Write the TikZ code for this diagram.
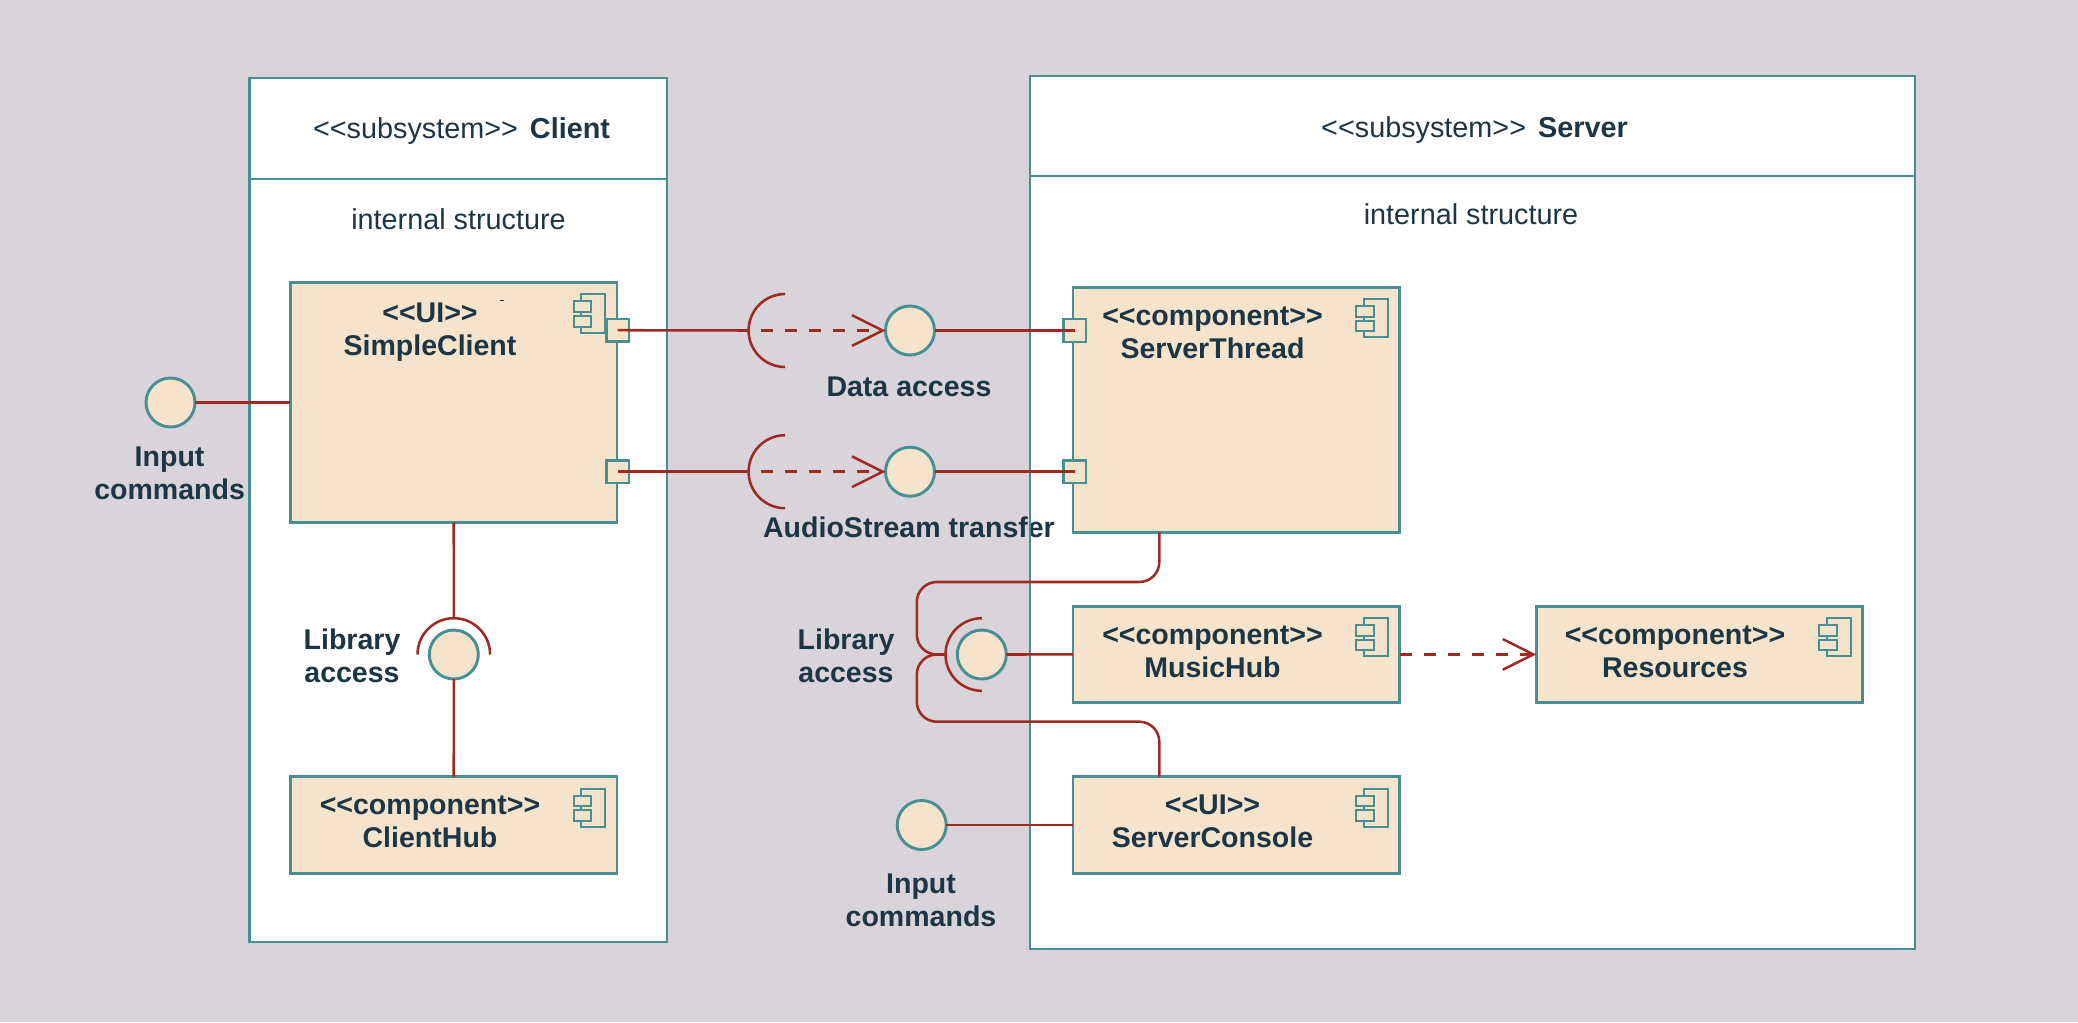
\documentclass[tikz,border=0pt]{standalone}
\usepackage{fontspec}
\setmainfont{Liberation Sans}
\usetikzlibrary{arrows.meta}

\definecolor{backc}{HTML}{D9D3DA}
\definecolor{fillc}{HTML}{F5E4CB}
\definecolor{tealc}{HTML}{478F92}
\definecolor{wirec}{HTML}{9E2B22}
\definecolor{textc}{HTML}{1C3646}

\newcommand{\stereo}[1]{<\kern0pt<#1>\kern0pt>}

\tikzset{
  frame/.style={draw=tealc,fill=white,line width=2.2pt,inner sep=0pt,outer sep=0pt},
  compbox/.style={draw=tealc,fill=fillc,line width=2.2pt,inner sep=0pt,outer sep=0pt,minimum width=244.9pt},
  portbox/.style={draw=tealc,fill=fillc,line width=1.7pt,inner sep=0pt,outer sep=0pt,minimum size=17pt},
  iface/.style={circle,draw=tealc,fill=fillc,line width=2.2pt,inner sep=0pt,outer sep=0pt,minimum size=36.75pt},
  wire/.style={draw=wirec,line width=1.9pt},
  depend/.style={wire,dash pattern=on 9.5pt off 8.5pt,-{Straight Barb[length=23pt,width=23pt]}},
  boldtext/.style={text=textc,align=center,inner sep=0pt,font=\fontsize{21.4pt}{24.75pt}\selectfont\bfseries},
  plaintext/.style={text=textc,align=center,inner sep=0pt,font=\fontsize{21.6pt}{24.75pt}\selectfont},
  compicon/.pic={
    \draw[draw=tealc,fill=fillc,line width=1.5pt] (-35.6,-11.8) rectangle (-12,-50.2);
    \draw[draw=tealc,fill=fillc,line width=1.5pt] (-43.4,-18.8) rectangle (-25.6,-29.5);
    \draw[draw=tealc,fill=fillc,line width=1.5pt] (-43.4,-33.5) rectangle (-25.6,-44.2);
  }
}

\begin{document}
\begin{tikzpicture}[x=0.75pt,y=0.75pt,yscale=-1,xscale=1]
\useasboundingbox (0,0) rectangle (2078,1022);
\fill[backc] (0,0) rectangle (2078,1022);

% Subsystem frames
\node (clientframe) [frame,minimum width=313.1pt,minimum height=648pt] at (458.25,510) {};
\node (serverframe) [frame,minimum width=663.75pt,minimum height=654.75pt] at (1472.5,512.5) {};
\coordinate (clientdiv) at (0,179);
\coordinate (serverdiv) at (0,176);
\draw[draw=tealc,line width=2.2pt] (clientframe.west |- clientdiv) -- (clientframe.east |- clientdiv);
\draw[draw=tealc,line width=2.2pt] (serverframe.west |- serverdiv) -- (serverframe.east |- serverdiv);

% Components
\node (simpleclient) [compbox,minimum height=180pt] at (453.75,402.5) {};
\node (clienthub) [compbox,minimum height=72.4pt] at (453.75,825) {};
\node (serverthread) [compbox,minimum height=184pt] at (1236.25,409.7) {};
\node (musichub) [compbox,minimum height=72.4pt] at (1236.25,654.4) {};
\node (serverconsole) [compbox,minimum height=72.4pt] at (1236.25,825) {};
\node (resources) [compbox,minimum height=72.4pt] at (1699.5,654.4) {};

\pic at (simpleclient.north east) {compicon};
\pic at (clienthub.north east) {compicon};
\pic at (serverthread.north east) {compicon};
\pic at (musichub.north east) {compicon};
\pic at (serverconsole.north east) {compicon};
\pic at (resources.north east) {compicon};
\draw[draw=textc,line width=0.8pt] (499.5,300.7) -- (504,300.7);

% Ports
\node (clientdata) [portbox] at (617.7,330.2) {};
\node (clientaudio) [portbox] at (617.7,471.7) {};
\node (serverdata) [portbox] at (1074.8,330.5) {};
\node (serveraudio) [portbox] at (1074.8,471.7) {};

% Interfaces
\node (inputclient) [iface] at (170.5,402.5) {};
\node (dataiface) [iface] at (910,330.5) {};
\node (audioiface) [iface] at (910,471.7) {};
\node (libclient) [iface] at (453.8,654.5) {};
\node (libserver) [iface] at (981.8,654.5) {};
\node (inputserver) [iface] at (921.7,825) {};

% Sockets
\coordinate (datasock) at (748.6,330.5);
\coordinate (audiosock) at (748.6,471.7);
\coordinate (libtop) at (453.8,618.2);
\coordinate (libsock) at (945.5,654.5);
\draw[wire] (datasock) ++(36.5,-36.5) arc (-90:-270:36.5);
\draw[wire] (audiosock) ++(36.5,-36.5) arc (-90:-270:36.5);
\draw[wire] (libtop) ++(36.3,36.3) arc (0:-180:36.3);
\draw[wire] (libsock) ++(36.3,-36.3) arc (-90:-270:36.3);

% Text Node
\node (clienttitle) [plaintext] at (461.5,131.5) {\stereo{subsystem}\hspace{3pt} \textbf{Client}};
\node (servertitle) [plaintext] at (1474.5,130.5) {\stereo{subsystem}\hspace{3pt} \textbf{Server}};
\node (clientinner) [plaintext] at (458.5,219) {internal structure};
\node (serverinner) [plaintext] at (1471,214) {internal structure};
\node (simplelabel) [boldtext] at (430,332.5) {\stereo{UI}\\SimpleClient};
\node (clienthublabel) [boldtext] at (430,821.5) {\stereo{component}\\ClientHub};
\node (threadlabel) [boldtext] at (1212.5,333.3) {\stereo{component}\\ServerThread};
\node (musiclabel) [boldtext] at (1212.5,651.5) {\stereo{component}\\MusicHub};
\node (consolelabel) [boldtext] at (1212.5,821.5) {\stereo{UI}\\ServerConsole};
\node (resourcelabel) [boldtext] at (1675,651.5) {\stereo{component}\\Resources};
\node (inputlabelc) [boldtext] at (169.6,473) {Input\\commands};
\node (inputlabels) [boldtext] at (921,900.5) {Input\\commands};
\node (libclabel) [boldtext] at (352,655.3) {Library\\access};
\node (libslabel) [boldtext] at (846,655.3) {Library\\access};
\node (datalabel) [boldtext] at (909,387) {Data access};
\node (audiolabel) [boldtext] at (909,527.5) {AudioStream transfer};
\draw[draw=tealc,line width=2.2pt] (serverframe.north west) -- (serverframe.south west);

% Straight Lines
\draw[wire] (inputclient.east) -- (simpleclient.west);
\draw[wire] (simpleclient.south) -- (libtop);
\draw[wire] (libclient.south) -- (clienthub.north);
\draw[wire] (clientdata.center) -- (datasock);
\draw[wire] (clientaudio.center) -- (audiosock);
\draw[wire] (dataiface.east) -- (serverdata.center);
\draw[wire] (audioiface.east) -- (serveraudio.center);
\draw[wire] (libserver.east) -- (musichub.west);
\draw[wire] (inputserver.east) -- (serverconsole.west |- inputserver.east);

% Dashed Lines
\draw[depend,dash phase=9pt] (datasock) -- (dataiface.west);
\draw[depend,dash phase=9pt] (audiosock) -- (audioiface.west);
\draw[depend] (musichub.east) -- (resources.west);

% Library bus
\coordinate (busup) at (1159.3,582);
\coordinate (busdown) at (1159.3,721.7);
\coordinate (busleftup) at (916.8,582);
\coordinate (busleftdown) at (916.8,721.7);
\coordinate (busmid) at (916.8,654.5);
\draw[wire,rounded corners=15pt] (busup |- serverthread.south) -- (busup) -- (busleftup) -- (busmid) -- (libsock);
\draw[wire,rounded corners=15pt] (busdown |- serverconsole.north) -- (busdown) -- (busleftdown) -- (busmid) -- (libsock);
\end{tikzpicture}
\end{document}
